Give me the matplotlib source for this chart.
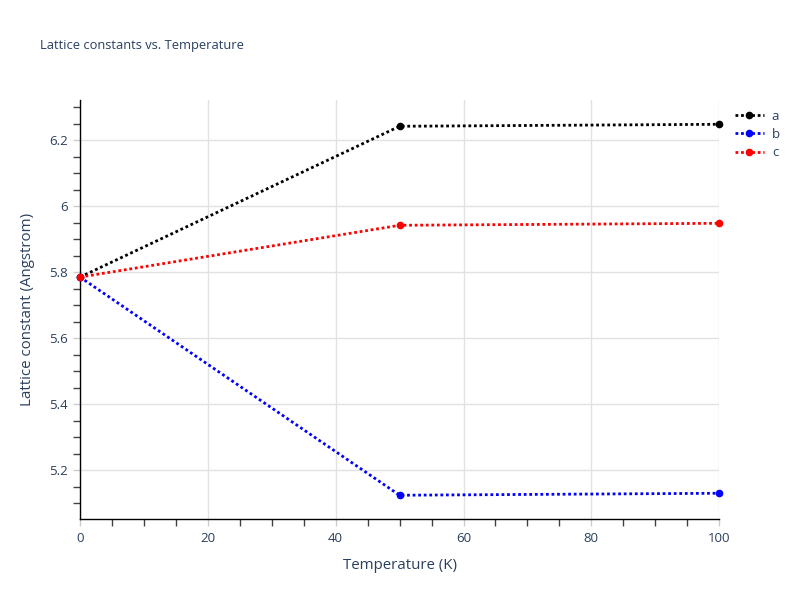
import matplotlib

matplotlib.use("Agg")
import matplotlib.pyplot as plt
from matplotlib.ticker import MultipleLocator

temperature = [0, 50, 100]
lattice_a = [5.785, 6.242, 6.248]
lattice_b = [5.785, 5.124, 5.130]
lattice_c = [5.785, 5.942, 5.948]
series_names = ["a", "b", "c"]
series_colors = ["black", "blue", "red"]

text_color = "#2a3f5f"
plt.rcParams["font.family"] = ["Open Sans", "DejaVu Sans"]

fig = plt.figure(figsize=(8, 6), dpi=100)
ax = fig.add_axes([0.1, 0.135, 0.799, 0.698])

for name, values, color in zip(series_names, [lattice_a, lattice_b, lattice_c], series_colors):
    ax.plot(temperature, values, linestyle=(0, (1, 1)), linewidth=2, color=color,
            marker="o", markersize=4.5, label=name, clip_on=False, zorder=3)

ax.set_xlim(0, 100)
ax.set_ylim(5.052, 6.321)
ax.xaxis.set_major_locator(MultipleLocator(20))
ax.xaxis.set_minor_locator(MultipleLocator(5))
ax.yaxis.set_major_locator(MultipleLocator(0.2))
ax.yaxis.set_minor_locator(MultipleLocator(0.05))
ax.yaxis.set_major_formatter(lambda v, p: f"{v:g}")

ax.grid(True, which="major", color="#e2e2e2", linewidth=1)
ax.set_axisbelow(True)
for side in ("top", "right"):
    ax.spines[side].set_visible(False)
for side in ("left", "bottom"):
    ax.spines[side].set_color("black")
    ax.spines[side].set_linewidth(1)

ax.tick_params(which="both", direction="out", length=5, width=1, colors="#444444",
               labelcolor=text_color, labelsize=9.5, pad=4)
ax.tick_params(which="major", color="#cccccc")

ax.set_xlabel("Temperature (K)", color=text_color, fontsize=10.8, labelpad=10)
ax.set_ylabel("Lattice constant (Angstrom)", color=text_color, fontsize=10.8, labelpad=10)
fig.text(0.05, 0.925, "Lattice constants vs. Temperature", color=text_color, fontsize=9.3,
         ha="left", va="center")

ax.legend(loc="upper left", bbox_to_anchor=(0.912, 0.826), bbox_transform=fig.transFigure,
          frameon=False, fontsize=9.5, labelcolor=text_color, handlelength=2.2,
          handletextpad=0.6, labelspacing=0.4, borderaxespad=0)

fig.savefig("out.png", dpi=100)
